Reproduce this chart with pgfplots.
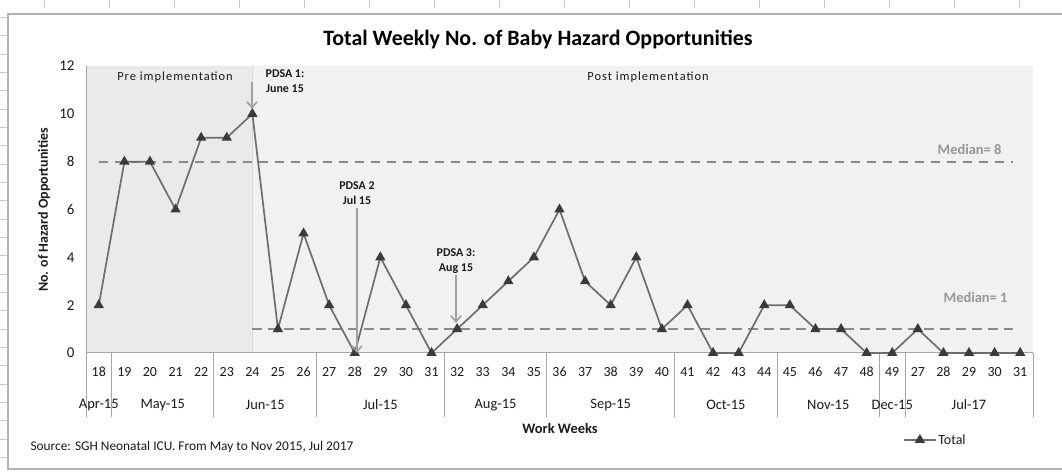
\documentclass[border=0pt]{standalone}
\usepackage{pgfplots}
\pgfplotsset{compat=1.18}
\usepackage{fontspec}
\setmainfont{Carlito}
\newfontfamily\spaced[LetterSpace=8]{Carlito}
\usetikzlibrary{arrows.meta}
\definecolor{linegray}{HTML}{6E6E6E}
\definecolor{markgray}{HTML}{3A3A3A}
\definecolor{mediangray}{HTML}{8A8A8A}
\definecolor{labelgray}{HTML}{969696}
\definecolor{arrowgray}{HTML}{A0A0A0}
\definecolor{axisgray}{HTML}{A6A6A6}
\definecolor{prefill}{HTML}{EAEAEA}
\definecolor{postfill}{HTML}{F1F1F1}
\definecolor{txt}{HTML}{1A1A1A}
\begin{document}
\begin{tikzpicture}[x=1bp,y=1bp]
\useasboundingbox (0,0) rectangle (1062,472);
\fill[white] (0,0) rectangle (1062,472);
% spreadsheet grid marks
\foreach \xx in {44,109,174,239,304,369,434,499,564,629,694,759,824,889,954,1019}
  \draw[gray!45] (\xx,472) -- (\xx,464);
\foreach \yy in {455,437,418,400,382,363,345,327,308,290,272,253,235,217,198,180,162,143,125,107,88,70,52,33,15}
  \draw[gray!45] (0,\yy) -- (7,\yy);
% chart border
\draw[gray!60, line width=1.2bp] (8,3) rectangle (1080,458);
\begin{axis}[
  at={(86bp,119bp)}, anchor=south west,
  scale only axis, width=947bp, height=287bp,
  xmin=-0.5, xmax=36.5, ymin=0, ymax=12,
  axis line style={draw=none},
  major tick length=0pt,
  xtick={0,...,36},
  xticklabels={18,19,20,21,22,23,24,25,26,27,28,29,30,31,32,33,34,35,36,37,38,39,40,41,42,43,44,45,46,47,48,49,27,28,29,30,31},
  ytick={0,2,...,12},
  /pgf/number format/assume math mode=true,
  xticklabel style={font=\fontsize{14}{15}\selectfont, text=txt, anchor=center, yshift=-19bp},
  yticklabel style={font=\fontsize{15}{17}\selectfont, text=txt, xshift=-8bp},
  clip=false,
  legend style={at={(axis description cs:0.863,-0.303)}, anchor=west, draw=none, fill=none,
    font=\fontsize{14}{16}\selectfont, text=txt, inner sep=0pt},
  legend image code/.code={\draw[mark repeat=2,mark phase=2,#1] plot coordinates {(0cm,0cm) (0.55cm,0cm) (1.1cm,0cm)};},
]
\fill[prefill] (axis cs:-0.5,0) rectangle (axis cs:6,12);
\fill[postfill] (axis cs:6,0) rectangle (axis cs:36.5,12);
\draw[gray!30, line width=1bp] (axis cs:6,0) -- (axis cs:6,12);
\draw[axisgray, line width=1bp] (axis cs:-0.5,0) -- (axis cs:-0.5,12);
\draw[axisgray, line width=1bp] (axis cs:-0.5,0) -- (axis cs:36.5,0);
\pgfplotsinvokeforeach{-0.5,0.5,4.5,8.5,13.5,17.5,22.5,26.5,30.5,31.5,36.5}{
  \draw[axisgray, line width=1bp] (axis cs:#1,0) -- ([yshift=-64bp]axis cs:#1,0);
}
\draw[mediangray, line width=2bp, dash pattern=on 9.5bp off 6.5bp] (axis cs:0,8) -- (axis cs:35.7,8);
\draw[mediangray, line width=2bp, dash pattern=on 9.5bp off 6.5bp] (axis cs:6,1) -- (axis cs:35.7,1);
\addplot[color=linegray, line width=1.7bp, mark=triangle*, mark size=4.3bp,
  mark options={fill=markgray, draw=markgray, solid}] coordinates {
(0,2) (1,8) (2,8) (3,6) (4,9) (5,9) (6,10) (7,1) (8,5) (9,2) (10,0) (11,4) (12,2) (13,0)
(14,1) (15,2) (16,3) (17,4) (18,6) (19,3) (20,2) (21,4) (22,1) (23,2) (24,0) (25,0)
(26,2) (27,2) (28,1) (29,1) (30,0) (31,0) (32,1) (33,0) (34,0) (35,0) (36,0)
};
\addlegendentry{Total}
% month labels
\node[font=\fontsize{14.5}{15}\selectfont, text=txt] at ([yshift=-52bp]axis cs:0,0) {Apr-15};
\node[font=\fontsize{14.5}{15}\selectfont, text=txt] at ([yshift=-52bp]axis cs:2.5,0) {May-15};
\node[font=\fontsize{14.5}{15}\selectfont, text=txt] at ([yshift=-52bp]axis cs:6.5,0) {Jun-15};
\node[font=\fontsize{14.5}{15}\selectfont, text=txt] at ([yshift=-52bp]axis cs:11,0) {Jul-15};
\node[font=\fontsize{14.5}{15}\selectfont, text=txt] at ([yshift=-52bp]axis cs:15.5,0) {Aug-15};
\node[font=\fontsize{14.5}{15}\selectfont, text=txt] at ([yshift=-52bp]axis cs:20,0) {Sep-15};
\node[font=\fontsize{14.5}{15}\selectfont, text=txt] at ([yshift=-52bp]axis cs:24.5,0) {Oct-15};
\node[font=\fontsize{14.5}{15}\selectfont, text=txt] at ([yshift=-52bp]axis cs:28.5,0) {Nov-15};
\node[font=\fontsize{14.5}{15}\selectfont, text=txt] at ([yshift=-52bp]axis cs:31,0) {Dec-15};
\node[font=\fontsize{14.5}{15}\selectfont, text=txt] at ([yshift=-52bp]axis cs:34,0) {Jul-17};
\end{axis}
% title
\node[font=\bfseries\fontsize{22}{24}\selectfont, text=black] at (538,432) {Total Weekly No. of Baby Hazard Opportunities};
% axis titles
\node[rotate=90, font=\bfseries\fontsize{14}{15}\selectfont, text=txt] at (44,262) {No. of Hazard Opportunities};
\node[font=\bfseries\fontsize{14.5}{15}\selectfont, text=txt] at (560,44) {Work Weeks};
\node[anchor=west, font=\fontsize{13.4}{14}\selectfont, text=txt] at (27,25) {Source: SGH Neonatal ICU. From May to Nov 2015, Jul 2017};
% region labels
\node[font=\spaced\fontsize{12.5}{14}\selectfont, text=txt] at (175,395) {Pre implementation};
\node[font=\spaced\fontsize{12.5}{14}\selectfont, text=txt] at (648,395) {Post implementation};
% median labels
\node[anchor=east, font=\bfseries\fontsize{14.5}{15}\selectfont, text=labelgray] at (1005,323) {Median= 8};
\node[anchor=east, font=\bfseries\fontsize{14.5}{15}\selectfont, text=labelgray] at (1011,175) {Median= 1};
% PDSA annotations
\node[align=center, font=\bfseries\fontsize{12}{15}\selectfont, text=txt] at (285,391) {PDSA 1:\\June 15};
\draw[arrowgray, line width=1.6bp, -{Straight Barb[length=6bp,width=10bp]}] (252,390) -- (252,363);
\node[align=center, font=\bfseries\fontsize{12}{15}\selectfont, text=txt] at (357,279) {PDSA 2\\Jul 15};
\draw[arrowgray, line width=1.6bp, -{Straight Barb[length=6bp,width=10bp]}] (357,264) -- (357,119);
\node[align=center, font=\bfseries\fontsize{12}{15}\selectfont, text=txt] at (456,211) {PDSA 3:\\Aug 15};
\draw[arrowgray, line width=1.6bp, -{Straight Barb[length=6bp,width=10bp]}] (456,197) -- (456,149);
\end{tikzpicture}
\end{document}
